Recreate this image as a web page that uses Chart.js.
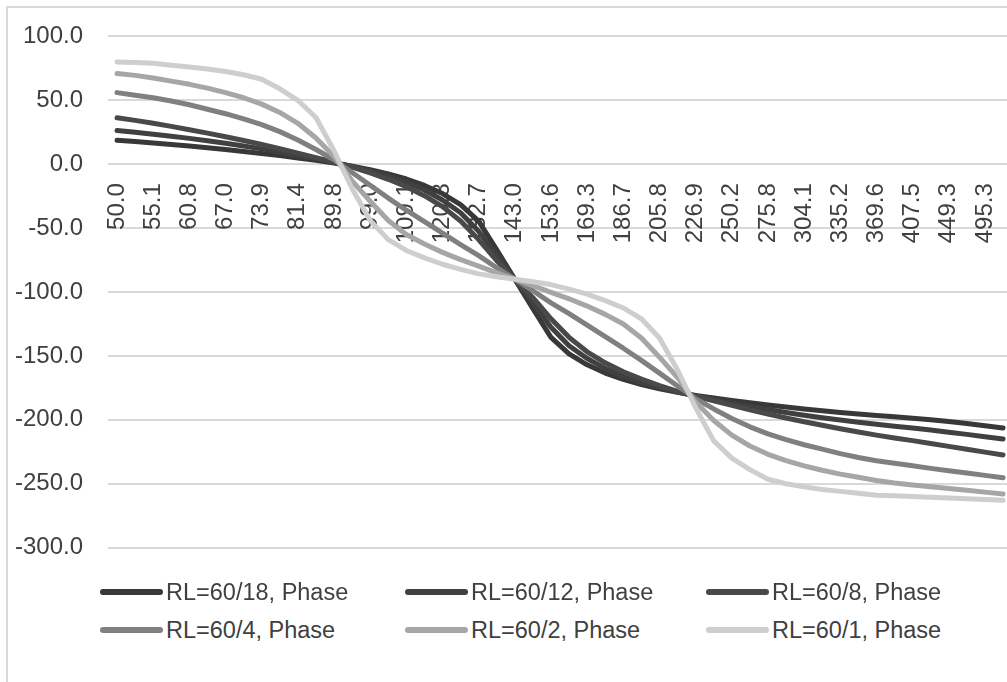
<!DOCTYPE html>
<html>
<head>
<meta charset="utf-8">
<script src="https://cdn.jsdelivr.net/npm/chart.js@4.4.1/dist/chart.umd.min.js"></script>
<style>
  html, body { margin: 0; padding: 0; background: #fff; }
  body { width: 1007px; height: 682px; overflow: hidden; position: relative; font-family: "Liberation Sans", Arial, sans-serif; }
  #frame { position: absolute; left: 6px; top: 6px; width: 1100px; height: 800px;
           border-left: 2px solid #d9d9d9; border-top: 2px solid #d9d9d9; }
  #chart { position: absolute; left: 0; top: -3px; }
  #legend { position: absolute; left: 0; top: 573px; width: 1007px; }
  .item { position: absolute; height: 38px; display: flex; align-items: center;
          font-size: 23.5px; color: #404040; white-space: nowrap; }
  .swatch { display: inline-block; width: 63px; height: 6px; border-radius: 3px; margin-right: 3px; }
</style>
</head>
<body>
<div id="frame"></div>
<canvas id="chart" width="1051" height="590"></canvas>
<div id="legend"></div>
<script>
// frequency points (every other one is labelled on the axis)
const freqLabels = ['50.0','52.5','55.1','57.9','60.8','63.8','67.0','70.4','73.9','77.6',
  '81.4','85.5','89.8','94.3','99.0','103.9','109.1','114.6','120.3','126.3',
  '132.7','139.3','143.0','146.3','153.6','161.3','169.3','177.8','186.7','196.0',
  '205.8','216.1','226.9','238.2','250.2','262.7','275.8','289.6','304.1','319.3',
  '335.2','352.0','369.6','388.1','407.5','427.9','449.3','471.7','495.3','520.1'];

const yTicks = [100, 50, 0, -50, -100, -150, -200, -250, -300];

const seriesNames = ['RL=60/18, Phase', 'RL=60/12, Phase', 'RL=60/8, Phase',
  'RL=60/4, Phase', 'RL=60/2, Phase', 'RL=60/1, Phase'];

const phase18 = [18.8, 17.7, 16.6, 15.4, 14.2, 12.9, 11.5, 10.0, 8.4, 6.7,
  4.9, 3.0, 0.9, -1.5, -4.3, -7.6, -11.6, -16.6, -23.0, -31.6,
  -44.5, -67, -90, -113, -135.5, -148.4, -157, -163.4, -168.4, -172.4,
  -175.7, -178.5, -180.9, -183, -184.9, -186.7, -188.4, -190, -191.5, -192.9,
  -194.2, -195.4, -196.6, -197.7, -198.8, -200, -201.4, -202.9, -204.6, -206.4];

const phase12 = [26.4, 25.0, 23.5, 21.9, 20.2, 18.4, 16.4, 14.3, 12.0, 9.5,
  6.8, 4.2, 1.4, -1.7, -5.2, -9.3, -14.2, -20.2, -28, -38,
  -52.5, -71.5, -90, -108.5, -127.5, -142, -152, -159.8, -165.8, -170.7,
  -174.8, -178.3, -181.4, -184.2, -186.8, -189.5, -192, -194.3, -196.4, -198.4,
  -200.2, -201.9, -203.5, -205, -206.4, -208, -209.7, -211.4, -213.2, -215];

const phase8 = [36.3, 34.3, 32.0, 29.6, 27.0, 24.3, 21.5, 18.6, 15.5, 12.2,
  8.7, 5.1, 1.6, -2.2, -6.8, -11.8, -17.6, -24.6, -33.2, -44.5,
  -59, -75.5, -90, -104.5, -121, -135.5, -146.8, -155.4, -162.4, -168.2,
  -173.2, -177.8, -181.6, -185.1, -188.7, -192.2, -195.5, -198.6, -201.5, -204.3,
  -207, -209.6, -212, -214.3, -216.3, -218.5, -220.8, -223, -225.3, -227.5];

const phase4 = [56, 54, 52, 49.5, 46.5, 43, 39.5, 35.5, 31, 25.5,
  19, 11.5, 3.5, -6.5, -16.5, -26.5, -36, -45, -54, -63,
  -71.5, -81, -90, -99, -108.5, -117, -126, -135, -144, -153.5,
  -163.5, -173.5, -183.5, -191.5, -199, -205.5, -211, -215.5, -219.5, -223,
  -226.5, -229.5, -232, -234, -236, -238, -239.9, -241.7, -243.5, -245.3];

const phase2 = [71, 69.5, 67.5, 65, 62.5, 59.5, 56, 52, 47, 40.5,
  32, 20.5, 6, -13, -29, -44, -55, -62.5, -69, -74.7,
  -79.7, -85, -90, -95, -100.3, -105.3, -111, -117.5, -125, -136,
  -151, -167, -186, -200.5, -212, -220.5, -227, -232, -236, -239.5,
  -242.5, -245, -247.5, -249.5, -251, -252.4, -253.8, -255.2, -256.6, -258];

const phase1 = [80, 79.5, 79, 77.5, 76, 74.5, 72.5, 70, 66.5, 59,
  50, 36.5, 10.5, -19, -44, -59, -67.5, -73.3, -78.3, -82.3,
  -85.8, -88, -90, -92, -94.2, -97.7, -101.7, -106.7, -112.5, -121,
  -136, -161, -190.5, -216.5, -230, -239, -246.5, -250, -252.5, -254.5,
  -256, -257.5, -259, -259.5, -260, -260.6, -261.2, -261.8, -262.4, -263];

const seriesData = [phase18, phase12, phase8, phase4, phase2, phase1];
const seriesColors = ['#383838', '#404040', '#494949', '#808080', '#a6a6a6', '#cecece'];

const textColor = '#404040';
const fontFamily = '"Liberation Sans", Arial, sans-serif';

const ctx = document.getElementById('chart').getContext('2d');
const chart = new Chart(ctx, {
  type: 'line',
  data: {
    labels: freqLabels,
    datasets: seriesNames.map((name, i) => ({
      label: name,
      data: seriesData[i],
      borderColor: seriesColors[i],
      backgroundColor: seriesColors[i],
      borderWidth: 5,
      pointRadius: 0,
      tension: 0,
      fill: false,
      borderCapStyle: 'round',
      borderJoinStyle: 'round',
      order: seriesNames.length - i   // later series drawn on top, like the original
    }))
  },
  options: {
    responsive: false,
    animation: false,
    layout: { padding: { left: 15, top: 32, right: 18, bottom: 15 } },
    scales: {
      x: {
        type: 'category',
        offset: true,
        position: { y: 0 },
        afterFit: s => { s.height = 0; },
        grid: { display: false, drawTicks: false },
        border: { display: false },
        ticks: {
          autoSkip: false,
          minRotation: 90,
          maxRotation: 90,
          padding: 19,
          color: textColor,
          font: { family: fontFamily, size: 24 },
          callback: function(v, i) { return i % 2 === 0 ? this.getLabelForValue(v) : ''; }
        }
      },
      y: {
        min: -300,
        max: 100,
        afterBuildTicks: s => { s.ticks = yTicks.map(v => ({ value: v })); },
        afterFit: s => { s.width = 93; },
        grid: { color: '#d9d9d9', lineWidth: 2, drawTicks: false },
        border: { display: false },
        ticks: {
          padding: 25,
          color: textColor,
          font: { family: fontFamily, size: 24 },
          callback: v => v.toFixed(1)
        }
      }
    },
    plugins: {
      legend: { display: false },
      tooltip: { enabled: false }
    }
  }
});

// legend in two rows of three, like the original
const legend = document.getElementById('legend');
const colX = [100, 405, 706];
chart.data.datasets.forEach((ds, i) => {
  const item = document.createElement('div');
  item.className = 'item';
  item.style.left = colX[i % 3] + 'px';
  item.style.top = (Math.floor(i / 3) * 38) + 'px';
  const sw = document.createElement('span');
  sw.className = 'swatch';
  sw.style.background = ds.borderColor;
  item.appendChild(sw);
  item.appendChild(document.createTextNode(ds.label));
  legend.appendChild(item);
});
</script>
</body>
</html>
